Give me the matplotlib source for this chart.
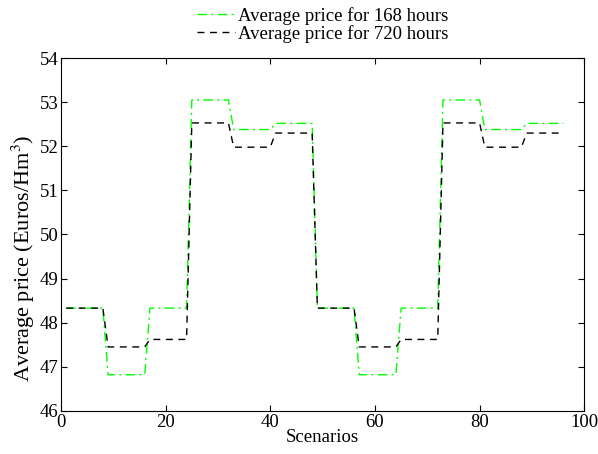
import numpy as np
import matplotlib
matplotlib.use("Agg")
import matplotlib.pyplot as plt

plt.rcParams['font.family'] = ['Liberation Serif', 'DejaVu Serif']
plt.rcParams['mathtext.fontset'] = 'stix'

# Block levels: each level holds for 8 consecutive scenarios
levels_168 = [48.33, 46.82, 48.33, 53.05, 52.38, 52.52,
              48.33, 46.82, 48.33, 53.05, 52.38, 52.52]
levels_720 = [48.33, 47.45, 47.62, 52.53, 51.98, 52.30,
              48.33, 47.45, 47.62, 52.53, 51.98, 52.30]
block_size = 8

scenarios = np.arange(1, len(levels_168) * block_size + 1)
price_168 = np.repeat(levels_168, block_size)
price_720 = np.repeat(levels_720, block_size)

fig = plt.figure(figsize=(5.98, 4.54), dpi=100)
ax = fig.add_axes([0.102, 0.095, 0.875, 0.777])

ax.plot(scenarios, price_168, color=(0, 1, 0), linestyle=(0, (7, 3, 1.5, 3)),
        linewidth=1.0, label='Average price for 168 hours')
ax.plot(scenarios, price_720, color='black', linestyle=(0, (5, 4)),
        linewidth=1.0, label='Average price for 720 hours')

ax.set_xlim(0, 100)
ax.set_ylim(46, 54)
ax.set_xticks(np.arange(0, 101, 20))
ax.set_yticks(np.arange(46, 55, 1))
ax.tick_params(direction='in', top=True, right=True, labelsize=13.5, length=4,
               pad=2)
ax.set_xlabel('Scenarios', fontsize=13.5, labelpad=-1)
ax.set_ylabel('Average price (Euros/Hm$^3$)', fontsize=16, va='center')
ax.yaxis.set_label_coords(-0.071, 0.432)

fig.legend(loc='upper center', bbox_to_anchor=(0.54, 1.022), frameon=False,
           fontsize=13.5, handlelength=2.0, handletextpad=0.2, labelspacing=0.0)

fig.savefig('out.png', dpi=100)
